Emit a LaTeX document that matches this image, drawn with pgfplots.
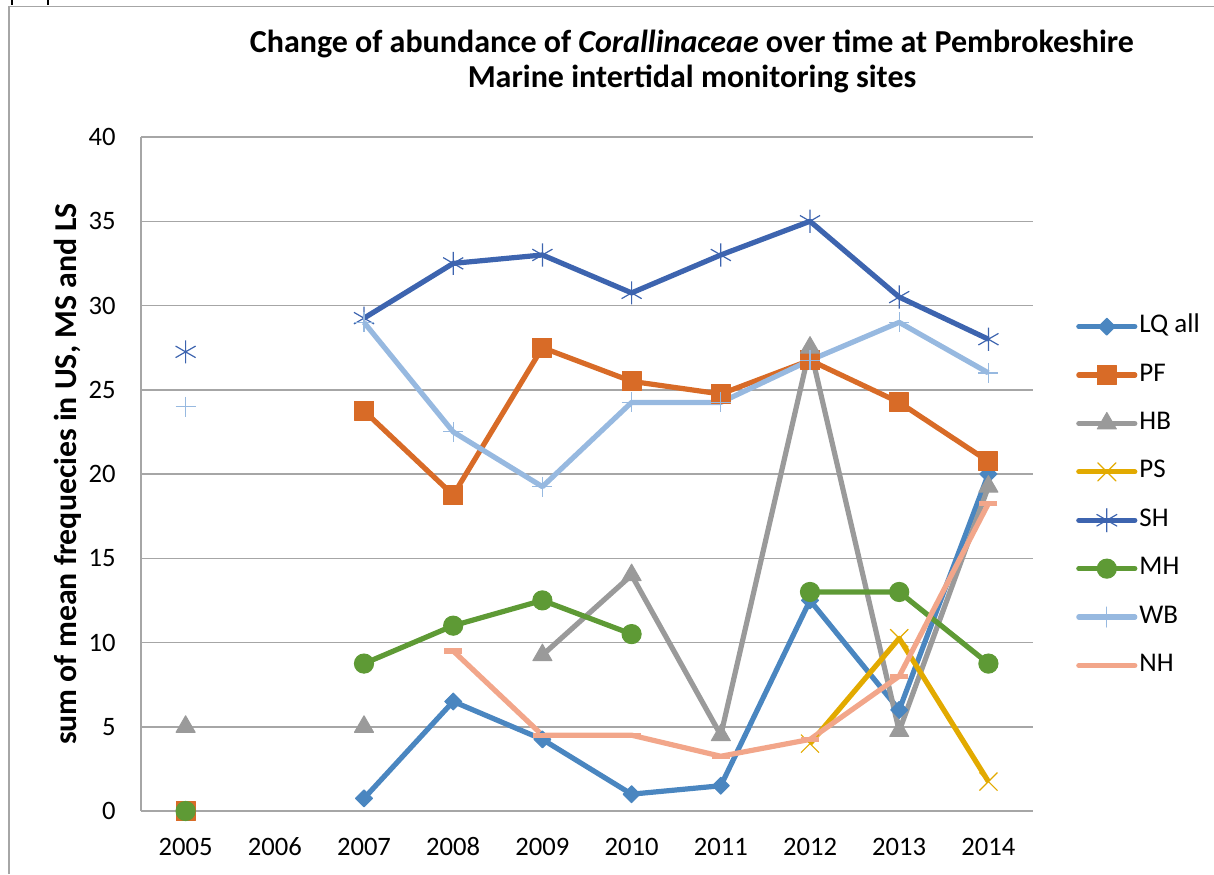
\documentclass[border=0pt]{standalone}
\usepackage{fontspec}
\setmainfont{Carlito}
\usepackage{pgfplots}
\pgfplotsset{compat=1.18}
\definecolor{cLQ}{HTML}{4A86C0}
\definecolor{cPF}{HTML}{D86B27}
\definecolor{cHB}{HTML}{9A9A9A}
\definecolor{cPS}{HTML}{E2AA00}
\definecolor{cSH}{HTML}{3D64AF}
\definecolor{cMH}{HTML}{5E9A35}
\definecolor{cWB}{HTML}{97B9E0}
\definecolor{cNH}{HTML}{F2A68A}
\definecolor{cGrid}{HTML}{A6A6A6}
\begin{document}
\begin{tikzpicture}
\path[use as bounding box] (0,0) rectangle (607pt,-437pt);
% outer frame
\draw[cGrid, line width=0.75pt] (4.5pt,-437pt) -- (4.5pt,-3.25pt) -- (607pt,-3.25pt);
\draw[black, line width=1pt] (6pt,0pt) -- (6pt,-2.5pt);
\draw[black, line width=1pt] (24pt,0pt) -- (24pt,-2.5pt);
% title
\node[font=\fontsize{16}{17.5}\selectfont\bfseries, align=center] at (346pt,-30.5pt)
  {Change of abundance of \textit{Corallinaceae} over time at Pembrokeshire\\Marine intertidal monitoring sites};
\begin{axis}[
  at={(70.5pt,-405.5pt)}, anchor=south west,
  scale only axis, width=446pt, height=337pt,
  xmin=2004.5, xmax=2014.5, ymin=0, ymax=40,
  xtick={2005,2006,...,2014}, ytick={0,5,...,40},
  /pgf/number format/1000 sep={},
  /pgf/number format/assume math mode=true,
  axis x line=bottom, axis y line=left,
  axis line style={cGrid, line width=0.75pt, -},
  ymajorgrids, grid style={cGrid, line width=0.75pt},
  major tick length=0pt,
  tick style={draw=none},
  ticklabel style={font=\fontsize{13.3}{15}\selectfont},
  yticklabel style={anchor=east, inner sep=0pt, xshift=-12.5pt},
  xticklabel style={anchor=north, inner sep=0pt, yshift=-13.5pt, text height=8.4pt, text depth=0pt},
  ylabel={\bfseries sum of mean frequecies in US, MS and LS},
  ylabel style={font=\fontsize{15.9}{18}\selectfont, at={(axis description cs:-0.0818,0.5)}, anchor=center},
  unbounded coords=jump,
  every axis plot/.append style={line width=2.6pt, line join=round},
  legend cell align=left,
  legend style={draw=none, fill=none, font=\fontsize{13.5}{15}\selectfont,
    at={(1.048,0.740)}, anchor=north west,
    row sep=10.2pt, inner sep=0pt,
    nodes={inner sep=1pt, text height=9pt, text depth=3pt}},
  legend image code/.code={\draw[#1, mark repeat=2, mark phase=2, line cap=round] plot coordinates {(0pt,0pt) (14pt,0pt) (28pt,0pt)};},
]
% LQ all
\addplot[color=cLQ, mark=square*, mark size=3pt, mark options={rotate=45, line width=0.5pt, fill=cLQ}]
  coordinates {(2005,0) (2006,nan) (2007,0.75) (2008,6.5) (2009,4.25) (2010,1.0) (2011,1.5) (2012,12.5) (2013,6) (2014,20)};
\addlegendentry{LQ all}
% PF
\addplot[color=cPF, mark=square*, mark size=4.75pt, mark options={line width=0.5pt, fill=cPF}]
  coordinates {(2005,0) (2006,nan) (2007,23.75) (2008,18.75) (2009,27.5) (2010,25.5) (2011,24.75) (2012,26.75) (2013,24.25) (2014,20.75)};
\addlegendentry{PF}
% HB
\addplot[color=cHB, mark=triangle*, mark size=5.5pt, mark options={line width=0.5pt, fill=cHB}]
  coordinates {(2005,5) (2006,nan) (2007,5) (2008,nan) (2009,9.25) (2010,14) (2011,4.5) (2012,27.5) (2013,4.75) (2014,19.25)};
\addlegendentry{HB}
% PS
\addplot[color=cPS, mark=x, mark size=6.4pt, mark options={line width=0.6pt}]
  coordinates {(2012,4) (2013,10.25) (2014,1.75)};
\addlegendentry{PS}
% SH
\addplot[color=cSH, mark=asterisk, mark size=5.8pt, mark options={line width=0.6pt}]
  coordinates {(2005,27.25) (2006,nan) (2007,29.25) (2008,32.5) (2009,33) (2010,30.75) (2011,33) (2012,35) (2013,30.5) (2014,28)};
\addlegendentry{SH}
% MH
\addplot[color=cMH, mark=*, mark size=4.8pt, mark options={line width=0.5pt, fill=cMH}]
  coordinates {(2005,0) (2006,nan) (2007,8.75) (2008,11) (2009,12.5) (2010,10.5) (2011,nan) (2012,13) (2013,13) (2014,8.75)};
\addlegendentry{MH}
% WB
\addplot[color=cWB, mark=+, mark size=5pt, mark options={line width=0.6pt}]
  coordinates {(2005,24) (2006,nan) (2007,29) (2008,22.5) (2009,19.25) (2010,24.25) (2011,24.25) (2012,26.75) (2013,29) (2014,26)};
\addlegendentry{WB}
% NH
\addplot[color=cNH, mark=-, mark size=4.5pt, mark options={line width=2.6pt}]
  coordinates {(2008,9.5) (2009,4.5) (2010,4.5) (2011,3.25) (2012,4.25) (2013,8) (2014,18.25)};
\addlegendentry{NH}
\end{axis}
\end{tikzpicture}
\end{document}
